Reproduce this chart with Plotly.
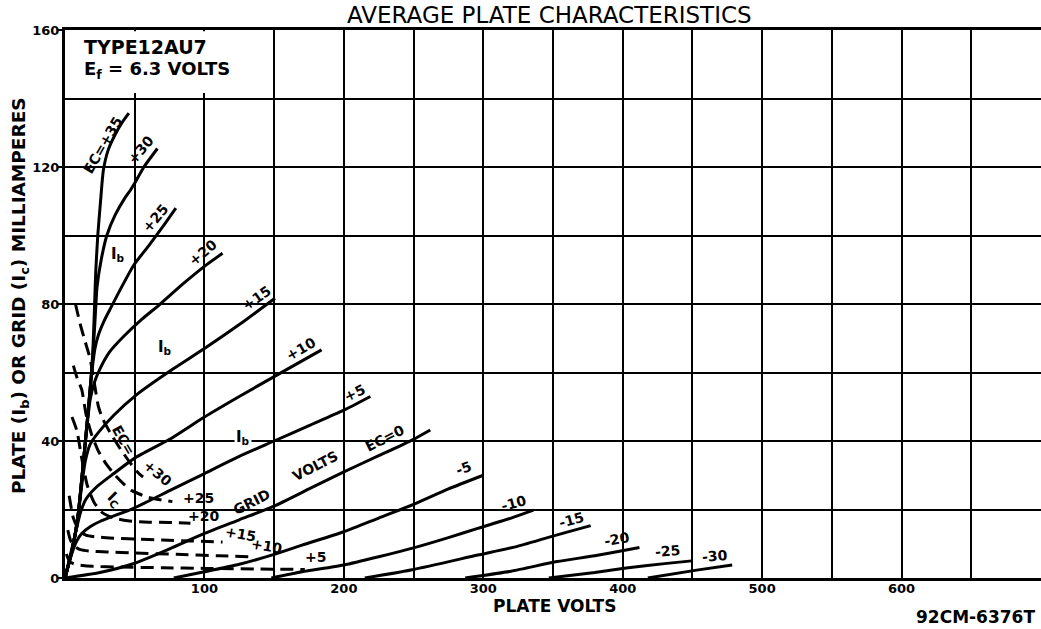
import plotly.graph_objects as go

# ---------------- data (plate volts, milliamperes) ----------------
# Plate current (Ib) curves, grid volts Ec
IB_P35_V = [0, 5, 9, 13, 16, 18, 19.8, 21, 22, 23.5, 25.5, 27.5, 31, 36, 41, 45.8]
IB_P35_I = [0, 8, 17, 33, 46, 55, 65, 77, 89, 100, 110, 119, 125, 129.5, 133, 135.7]
IB_P30_V = [0, 5, 9, 13, 16, 18, 20, 21.5, 23, 26, 30, 36, 43, 47, 51, 56.6, 66.3]
IB_P30_I = [0, 8, 17, 33, 46, 55, 65, 75, 85, 93, 100, 106, 111, 113.3, 116, 120, 125.4]
IB_P25_V = [0, 5, 9, 13, 16, 18, 19.8, 21.5, 24, 28, 33, 40, 49.4, 60, 70, 79.5]
IB_P25_I = [0, 8, 17, 33, 46, 55, 62, 67, 71, 75, 79, 84.5, 91.4, 97, 102.5, 108]
IB_P20_V = [0, 5, 9, 13, 16, 18, 21, 25, 32, 42, 55, 67.5, 85, 100, 113]
IB_P20_I = [0, 8, 17, 33, 45, 52, 57, 61, 66, 70.5, 75.5, 79.7, 86, 91, 94.8]
IB_P15_V = [0, 5, 9, 12, 14.5, 18, 24, 35, 51, 77.4, 100, 125, 150.6]
IB_P15_I = [0, 8, 17, 27, 34, 39, 42.5, 47.5, 53.4, 61, 67, 74, 81.7]
IB_P10_V = [0, 4, 8, 11, 15, 22.4, 35, 50, 75, 100, 125, 150, 184]
IB_P10_I = [0, 7, 14, 19, 23, 26.5, 30.5, 35, 40.5, 47, 53, 58.8, 66.6]
IB_P5_V = [0, 4, 8, 12, 18, 25, 50, 75, 100, 125, 150, 175, 200, 219]
IB_P5_I = [0, 6, 10.5, 13, 15, 16.5, 20.5, 25.5, 30.5, 35.5, 40, 44.5, 49, 53]
IB_0_V = [0, 25, 50, 75, 100, 125, 150, 175, 200, 225, 250, 262]
IB_0_I = [0, 1.6, 4.3, 8.5, 13, 17, 21, 26, 31, 35.7, 40.5, 43.2]
IB_M5_V = [78, 100, 125, 150, 170, 200, 225, 250, 275, 300]
IB_M5_I = [0, 1.8, 4, 6.9, 9.6, 13.5, 17.5, 21.5, 26, 30]
IB_M10_V = [148, 170, 200, 225, 250, 275, 296, 320, 336]
IB_M10_I = [0, 1.8, 3.8, 6.2, 8.8, 11.8, 14.5, 17.5, 19.8]
IB_M15_V = [215, 250, 296, 325, 353, 377]
IB_M15_I = [0, 2.5, 6.7, 9.3, 12.6, 15.3]
IB_M20_V = [287, 320, 353, 380, 402.5, 412]
IB_M20_I = [0, 2, 4.8, 6.5, 8.2, 8.9]
IB_M25_V = [347, 380, 402.5, 430, 449.5]
IB_M25_I = [0, 1.6, 2.9, 4.2, 5]
IB_M30_V = [418, 453, 478.5]
IB_M30_I = [0, 2.3, 3.8]

# Grid current (Ic) curves, grid volts Ec
IC_P30_V = [7.5, 11, 14.5, 18, 21, 24, 27, 33, 40, 47, 53, 56]
IC_P30_I = [80, 74, 69, 64, 57, 50, 46.5, 42, 37.5, 33.5, 30.5, 29.5]
IC_P25_V = [6, 9, 12, 15, 19, 24, 30, 36, 42, 48, 60, 77]
IC_P25_I = [62, 58, 55, 48, 42, 37, 33, 30, 27.5, 25.5, 23.5, 22.3]
IC_P20_V = [5, 8.5, 12, 16, 21, 27, 35, 45, 60, 75, 90]
IC_P20_I = [47, 43, 35, 27, 22, 19, 17.5, 16.7, 16.3, 16.2, 16]
IC_P15_V = [3, 6, 10, 15, 22, 32, 50, 70, 90, 113]
IC_P15_I = [24, 17.5, 14, 12.5, 12, 11.7, 11.4, 11.1, 10.8, 10.5]
IC_P10_V = [2, 4, 7, 11, 17, 30, 50, 80, 110, 136]
IC_P10_I = [14, 11, 9.2, 8.3, 7.9, 7.6, 7.3, 6.9, 6.5, 6.1]
IC_P5_V = [1, 3, 6, 10, 20, 40, 70, 100, 140, 172]
IC_P5_I = [7, 5, 4.2, 3.8, 3.4, 3.2, 3.0, 2.8, 2.6, 2.5]

X_TICKS = [100, 200, 300, 400, 500, 600]
X_TICK_TEXT = ["100", "200", "300", "400", "500", "600"]
X_GRID = [50, 150, 250, 350, 450, 550, 650]
Y_TICKS = [0, 40, 80, 120, 160]
Y_TICK_TEXT = ["0", "40", "80", "120", "160"]
Y_GRID = [20, 60, 100, 140]

# curve labels: text, volts, mA, angle
PLATE_LABELS = [
    ("EC=+35", 27.0, 126.5, -60), ("+30", 54.0, 125.0, -50), ("+25", 65.0, 105.0, -50),
    ("+20", 98.3, 95.0, -40), ("+15", 137.4, 81.8, -35), ("+10", 169.0, 67.0, -30),
    ("+5", 207.5, 54.0, -25), ("-5", 286.0, 32.0, -20), ("-10", 322.0, 22.0, -15),
    ("-15", 363.0, 16.8, -15), ("-20", 396.0, 11.5, -10), ("-25", 432.0, 7.8, -5),
    ("-30", 466.0, 6.5, -5),
    ("GRID", 133.8, 22.3, -27), ("VOLTS", 179.3, 32.6, -27), ("EC=0", 229.6, 40.9, -27),
]
GRID_LABELS = [
    ("EC=", 42.0, 40.3, 60), ("+30", 66.3, 30.6, 40), ("+25", 95.4, 23.4, 0),
    ("+20", 99.4, 18.0, 0), ("+15", 125.8, 12.8, 10), ("+10", 144.6, 9.3, 10),
    ("+5", 179.3, 6.2, 0),
]
I_LABELS = [("I<sub>b</sub>", 38.0, 94.6, 0), ("I<sub>b</sub>", 72.0, 67.4, 0),
            ("I<sub>b</sub>", 128.0, 41.0, 0), ("I<sub>C</sub>", 35.6, 23.0, 45)]

FONT = "DejaVu Sans"

fig = go.Figure()

plate_curves = [
    ("Ec=+35", IB_P35_V, IB_P35_I), ("Ec=+30", IB_P30_V, IB_P30_I),
    ("Ec=+25", IB_P25_V, IB_P25_I), ("Ec=+20", IB_P20_V, IB_P20_I),
    ("Ec=+15", IB_P15_V, IB_P15_I), ("Ec=+10", IB_P10_V, IB_P10_I),
    ("Ec=+5", IB_P5_V, IB_P5_I), ("Ec=0", IB_0_V, IB_0_I),
    ("Ec=-5", IB_M5_V, IB_M5_I), ("Ec=-10", IB_M10_V, IB_M10_I),
    ("Ec=-15", IB_M15_V, IB_M15_I), ("Ec=-20", IB_M20_V, IB_M20_I),
    ("Ec=-25", IB_M25_V, IB_M25_I), ("Ec=-30", IB_M30_V, IB_M30_I),
]
grid_curves = [
    ("Ic Ec=+30", IC_P30_V, IC_P30_I), ("Ic Ec=+25", IC_P25_V, IC_P25_I),
    ("Ic Ec=+20", IC_P20_V, IC_P20_I), ("Ic Ec=+15", IC_P15_V, IC_P15_I),
    ("Ic Ec=+10", IC_P10_V, IC_P10_I), ("Ic Ec=+5", IC_P5_V, IC_P5_I),
]

for name, v, i in plate_curves:
    fig.add_trace(go.Scatter(x=v, y=i, mode="lines", name=name,
                             line=dict(color="black", width=3, shape="spline", smoothing=0.6)))
for name, v, i in grid_curves:
    fig.add_trace(go.Scatter(x=v, y=i, mode="lines", name=name,
                             line=dict(color="black", width=3, dash="13px,7px",
                                       shape="spline", smoothing=0.6)))

annotations = []
for txt, v, i, ang in PLATE_LABELS + GRID_LABELS:
    annotations.append(dict(x=v, y=i, xref="x", yref="y", text=txt, showarrow=False,
                            textangle=ang, font=dict(family=FONT, size=14, color="black",
                                                     weight="bold")))
for txt, v, i, ang in I_LABELS:
    annotations.append(dict(x=v, y=i, xref="x", yref="y", text=txt, showarrow=False,
                            textangle=ang, bgcolor="white" if ang == 0 and i < 50 else None,
                            font=dict(family=FONT, size=15, color="black", weight="bold")))

# type box text
annotations.append(dict(x=12, y=155, xref="x", yref="y", xanchor="left", text="TYPE12AU7",
                        showarrow=False, font=dict(family=FONT, size=19, color="black", weight="bold")))
annotations.append(dict(x=12, y=148.3, xref="x", yref="y", xanchor="left",
                        text="E<sub>f</sub> = 6.3 VOLTS", showarrow=False,
                        font=dict(family=FONT, size=18, color="black", weight="bold")))
# titles
annotations.append(dict(x=0.496, y=1.0274, xref="paper", yref="paper", xanchor="center", yanchor="middle",
                        text="AVERAGE PLATE CHARACTERISTICS", showarrow=False,
                        font=dict(family=FONT, size=23, color="black")))
annotations.append(dict(x=0.502, y=-0.0520, xref="paper", yref="paper", xanchor="center", yanchor="middle",
                        text="PLATE VOLTS", showarrow=False,
                        font=dict(family=FONT, size=17, color="black", weight="bold")))
annotations.append(dict(x=-0.046, y=0.5146, xref="paper", yref="paper", xanchor="center", yanchor="middle",
                        textangle=-90,
                        text="PLATE (I<sub>b</sub>) OR GRID (I<sub>c</sub>) MILLIAMPERES",
                        showarrow=False, font=dict(family=FONT, size=18.5, color="black", weight="bold")))
annotations.append(dict(x=0.996, y=-0.0712, xref="paper", yref="paper", xanchor="right", yanchor="middle",
                        text="92CM-6376T", showarrow=False,
                        font=dict(family=FONT, size=17, color="black", weight="bold")))

fig.update_layout(
    width=1041, height=629,
    margin=dict(l=65, r=0, t=30, b=51),
    paper_bgcolor="white", plot_bgcolor="white",
    showlegend=False,
    annotations=annotations,
    shapes=[dict(type="rect", xref="x", yref="y", x0=0.8, x1=148.8, y0=141.6, y1=159.6,
                 fillcolor="white", line=dict(width=0), layer="between")],
)
fig.update_xaxes(range=[0, 700], tickmode="array", tickvals=X_TICKS, ticktext=X_TICK_TEXT,
                 showgrid=True, gridcolor="black", gridwidth=1.8, zeroline=False,
                 showline=True, linecolor="black", linewidth=3, mirror=True, ticks="",
                 ticklabelstandoff=-4,
                 minor=dict(tickmode="array", tickvals=X_GRID, showgrid=True,
                            gridcolor="black", gridwidth=1.8, ticks=""),
                 tickfont=dict(family=FONT, size=13, color="black", weight="bold"))
fig.update_yaxes(range=[0, 160], tickmode="array", tickvals=Y_TICKS, ticktext=Y_TICK_TEXT,
                 showgrid=True, gridcolor="black", gridwidth=1.8, zeroline=False,
                 showline=True, linecolor="black", linewidth=3, mirror=False,
                 ticks="outside", ticklen=4, tickwidth=2, tickcolor="black",
                 ticklabelstandoff=-4,
                 minor=dict(tickmode="array", tickvals=Y_GRID, showgrid=True,
                            gridcolor="black", gridwidth=1.8, ticks=""),
                 tickfont=dict(family=FONT, size=13, color="black", weight="bold"))

fig.write_html("out.html", config={"displayModeBar": False},
               post_script="document.body.style.margin='0';document.body.style.overflow='hidden';")
